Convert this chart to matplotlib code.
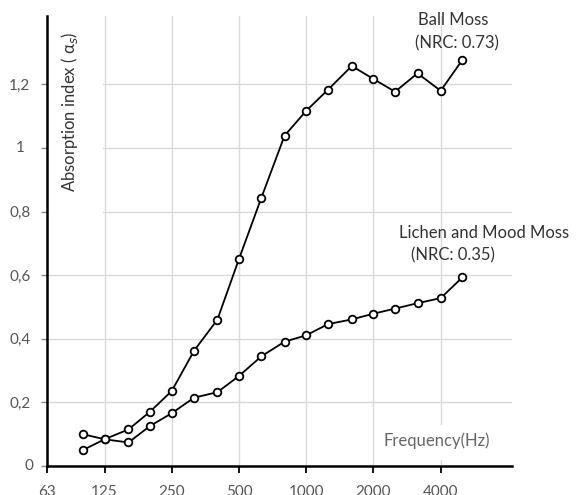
import matplotlib
matplotlib.use('Agg')
import matplotlib.pyplot as plt
from matplotlib.patches import Rectangle
from matplotlib.transforms import blended_transform_factory

plt.rcParams['font.family'] = ['Lato', 'DejaVu Sans']

# third-octave band centres (Hz)
freqs = [100, 125, 160, 200, 250, 315, 400, 500, 630, 800,
         1000, 1250, 1600, 2000, 2500, 3150, 4000, 5000]
ball_moss = [0.10, 0.084, 0.115, 0.171, 0.236, 0.363, 0.46, 0.651, 0.844, 1.039,
             1.117, 1.183, 1.258, 1.217, 1.177, 1.235, 1.180, 1.277]
lichen_moss = [0.050, 0.084, 0.074, 0.126, 0.166, 0.215, 0.232, 0.283, 0.345, 0.391,
               0.411, 0.446, 0.461, 0.479, 0.495, 0.512, 0.528, 0.593]

xticks = [125, 250, 500, 1000, 2000, 4000]
yticks = [0, 0.2, 0.4, 0.6, 0.8, 1.0, 1.2]
ylabels = ['0', '0,2', '0,4', '0,6', '0,8', '1', '1,2']

xmin = 100 * 2 ** (-1.6 / 3)
xmax = 100 * 2 ** (19.15 / 3)

fig = plt.figure(figsize=(5.82, 4.95), dpi=100)
ax = fig.add_axes([0.0808, 0.0586, 0.799, 0.9096])
ax.set_xscale('log', base=2)
ax.set_xlim(xmin, xmax)
ax.set_ylim(0, 1.416)

ax.grid(True, color='#d9d9d9', lw=1.0)
ax.set_axisbelow(True)

# white boxes behind the axis titles
ax.add_patch(Rectangle((xmin * 1.01, 0.78), 100 * 2 ** (0.9 / 3) - xmin * 1.01, 0.7,
                       facecolor='white', edgecolor='none', zorder=1))
ax.add_patch(Rectangle((2000 * 2 ** 0.02, 0.019), xmax - 2000 * 2 ** 0.02, 0.11,
                       facecolor='white', edgecolor='none', zorder=1))

for vals in (ball_moss, lichen_moss):
    ax.plot(freqs, vals, color='black', lw=1.3, marker='o', ms=5.5,
            mfc='white', mec='black', mew=1.3, zorder=3)

ax.set_xticks([xmin] + xticks)
ax.set_xticklabels(['63'] + [str(t) for t in xticks])
ax.xaxis.set_minor_locator(matplotlib.ticker.NullLocator())
ax.set_yticks(yticks)
# "1" and "0" sit off the common right edge in the reference; drawn separately
ax.set_yticklabels(['' if l in ('0', '1') else l for l in ylabels])
ax.tick_params(axis='x', length=5, width=1.3, color='black', labelsize=11,
               labelcolor='#555555', pad=9)
ax.tick_params(axis='y', length=4, width=1, color='#888888', labelsize=11,
               labelcolor='#555555', pad=8)

ytrans = blended_transform_factory(fig.transFigure, ax.transData)
for v, l in zip(yticks, ylabels):
    if l == '1':
        ax.text(20 / 582, v, l, transform=ytrans, ha='center', va='center',
                fontsize=11, color='#555555')
    elif l == '0':
        ax.text(29 / 582, v, l, transform=ytrans, ha='center', va='center',
                fontsize=11, color='#555555')

for s in ('top', 'right'):
    ax.spines[s].set_visible(False)
for s in ('left', 'bottom'):
    ax.spines[s].set_linewidth(1.8)
    ax.spines[s].set_color('black')

ax.text(70 / 582, 1 - 32 / 495, 'Absorption index ( α$_s$)', transform=fig.transFigure,
        rotation=90, ha='center', va='top', fontsize=12, color='#333333', zorder=2)
ax.text(437 / 582, 1 - 441 / 495, 'Frequency(Hz)', transform=fig.transFigure,
        ha='center', va='center', fontsize=12, color='#666666', zorder=2)

fig.text(453 / 582, 1 - 20 / 495, 'Ball Moss', ha='center', va='center',
         fontsize=12, color='#333333')
fig.text(457 / 582, 1 - 43 / 495, '(NRC: 0.73)', ha='center', va='center',
         fontsize=12, color='#333333')
fig.text(484 / 582, 1 - 233 / 495, 'Lichen and Mood Moss', ha='center', va='center',
         fontsize=12, color='#333333')
fig.text(453 / 582, 1 - 255 / 495, '(NRC: 0.35)', ha='center', va='center',
         fontsize=12, color='#333333')

fig.savefig('out.png', dpi=100)
